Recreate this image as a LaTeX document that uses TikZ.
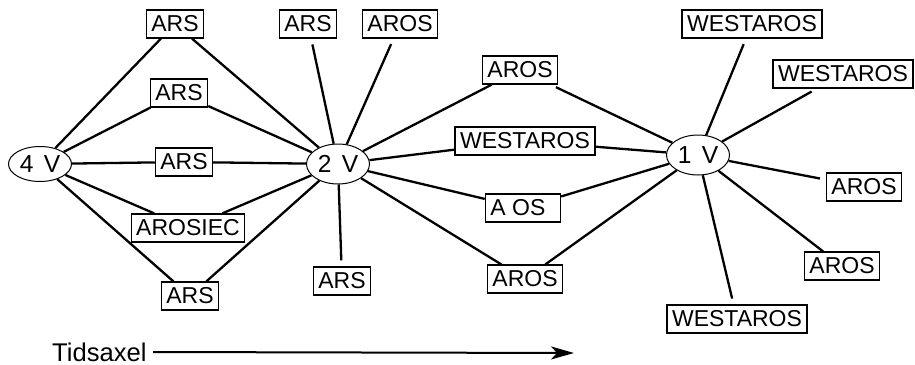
\documentclass[tikz,border=0pt]{standalone}
\usepackage{fontspec}
\setmainfont{Liberation Sans}
\usetikzlibrary{shapes.geometric,arrows.meta}

\begin{document}
\begin{tikzpicture}
[x=0.5pt, y=-0.5pt,
 every node/.style={font=\fontsize{11.5}{13}\selectfont},
 box/.style={draw, line width=0.6pt, inner xsep=2.5pt, inner ysep=0pt, minimum height=14pt},
 vnode/.style={ellipse, draw, line width=0.5pt, inner sep=0pt, minimum width=31.5pt, minimum height=20pt, font=\fontsize{12.3}{14}\selectfont},
 link/.style={line width=1.15pt}]
\useasboundingbox (0,0) rectangle (915,364);
\node (v4) [vnode, minimum height=17.5pt] at (40,164) {4\hspace{0.42em}V};
\node (v2) [vnode] at (338,164) {2\hspace{0.42em}V};
\node (v1) [vnode] at (698,155) {1\hspace{0.42em}V};
\node (a1) [box] at (175,24) {ARS};
\node (a2) [box] at (179,93) {ARS};
\node (a3) [box] at (184,162) {ARS};
\node (a4) [box] at (188,228) {AROSIEC};
\node (a5) [box] at (190,296) {ARS};
\node (b1) [box] at (308,24) {ARS};
\node (b2) [box] at (400,24) {AROS};
\node (b3) [box] at (342,281) {ARS};
\node (c1) [box] at (520,70) {AROS};
\node (c2) [box] at (525,141) {WESTAROS};
\node (c3) [box] at (523,208) {\rlap{A OS}\phantom{AROS}};
\node (c4) [box] at (525,279) {AROS};
\node (d1) [box] at (752,24) {WESTAROS};
\node (d2) [box] at (843,74) {WESTAROS};
\node (d3) [box] at (864,187) {AROS};
\node (d4) [box] at (842,266) {AROS};
\node (d5) [box] at (737,319) {WESTAROS};
\node (tids) [anchor=east, inner sep=0pt, font=\fontsize{12.8}{14}\selectfont] at (147,352) {Tidsaxel};
\coordinate (tend) at (574,353);
% 4 V
\draw [link] (v4) to (a1);
\draw [link] (v4) to (a2);
\draw [link] (v4) to (a3);
\draw [link] (v4) to (a4);
\draw [link] (v4) to (a5);
% 2 V
\draw [link] (a1) to (v2);
\draw [link] (a2) to (v2);
\draw [link] (a3) to (v2);
\draw [link] (a4) to (v2);
\draw [link] (a5) to (v2);
\draw [link, shorten >=3pt] (v2) to (b1);
\draw [link, shorten >=3pt] (v2) to (b2);
\draw [link, shorten >=3pt] (v2) to (b3);
\draw [link] (v2) to (c1);
\draw [link] (v2) to (c2);
\draw [link] (v2) to (c3);
\draw [link] (v2) to (c4);
% 1 V
\draw [link, shorten <=3pt] (c1) to (v1);
\draw [link] (c2) to (v1);
\draw [link] (c3) to (v1);
\draw [link] (c4) to (v1);
\draw [link, shorten >=3pt] (v1) to (d1);
\draw [link, shorten >=3pt] (v1) to (d2);
\draw [link, shorten >=3pt] (v1) to (d3);
\draw [link] (v1) to (d4);
\draw [link, shorten >=3pt] (v1) to (d5);
% time axis
\draw [line width=1pt, -{Stealth[length=11.5pt, width=6.5pt, inset=3pt]}] ([xshift=3pt]tids.east) to (tend);
\end{tikzpicture}
\end{document}
